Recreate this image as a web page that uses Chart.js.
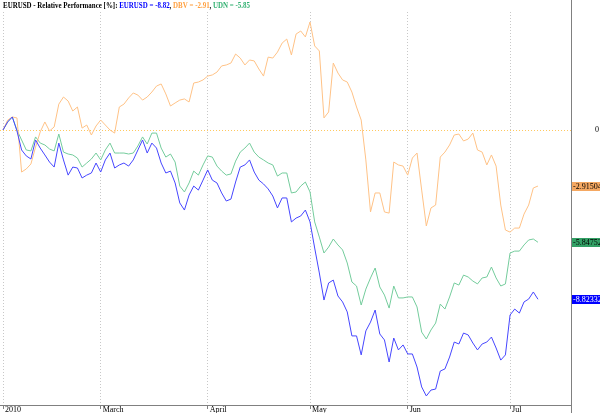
<!DOCTYPE html>
<html>
<head>
<meta charset="utf-8">
<script src="https://cdn.jsdelivr.net/npm/chart.js@4/dist/chart.umd.min.js"></script>
<style>
  html, body { margin: 0; padding: 0; background: #fff; }
  #wrap { width: 600px; height: 413px; }
</style>
</head>
<body>
<div id="wrap"><canvas id="chart" width="600" height="413"></canvas></div>
<script>
// trading days from 29 Jan 2010 to 9 Jul 2010, relative performance in %
const eurusd = [
  0, 0.42, 0.68, -0.05, -1.04, -1.35, -1.51, -0.52, -0.94, -1.30,
  -1.67, -1.93, -0.68, -1.56, -2.35, -1.93, -1.98, -2.50, -2.35, -2.24,
  -1.72, -2.19, -1.56, -1.20, -1.98, -1.82, -1.72, -1.88, -1.56, -1.04,
  -0.52, -1.20, -0.68, -0.94, -1.72, -2.24, -2.14, -2.76, -3.80, -4.17,
  -3.39, -2.92, -3.13, -2.61, -2.08, -2.61, -2.76, -3.28, -3.70, -3.60,
  -2.71, -1.93, -1.82, -1.56, -2.19, -2.61, -2.81, -3.07, -3.44, -4.06,
  -3.54, -3.54, -4.79, -4.59, -4.48, -4.17, -4.79, -6.15, -7.45, -8.86,
  -7.97, -7.82, -8.65, -8.96, -9.48, -10.73, -10.73, -11.72, -10.47, -10.01,
  -9.38, -10.63, -10.94, -12.09, -10.84, -11.46, -11.20, -11.67, -11.67, -12.35,
  -13.39, -13.86, -13.55, -13.50, -12.56, -12.45, -11.83, -11.05, -11.15, -10.58,
  -10.68, -11.10, -11.46, -11.15, -11.05, -10.79, -11.36, -11.99, -11.72, -9.64,
  -9.33, -9.54, -8.96, -8.81, -8.44, -8.82
];
const dbv = [
  0, 0.52, 0.68, 0.63, -2.19, -2.03, -1.77, -0.89, -0.10, 0.42,
  -0.05, 0.16, 1.35, 1.72, 1.51, 0.99, 1.20, 0.10, 0.26, -0.26,
  0.21, 0.52, 0.26, 0, -0.16, 1.20, 1.35, 1.67, 1.93, 1.82,
  1.56, 1.72, 1.98, 2.29, 2.40, 1.88, 1.25, 1.41, 1.56, 1.62,
  1.46, 2.45, 2.50, 2.61, 2.81, 2.87, 3.02, 3.34, 3.39, 3.49,
  3.96, 3.75, 3.39, 3.65, 3.60, 3.18, 2.81, 3.80, 3.75, 4.06,
  4.53, 4.74, 3.91, 5.00, 5.16, 4.85, 5.63, 4.38, 4.12, 0.63,
  0.94, 3.49, 2.97, 2.61, 2.50, 1.98, 1.20, 0.52, -1.56, -4.27,
  -3.28, -3.28, -4.27, -4.33, -1.67, -1.82, -1.88, -2.35, -1.46, -1.20,
  -3.13, -5.00, -4.06, -3.91, -1.41, -1.15, -0.78, -0.26, -0.21, -0.57,
  -0.47, -0.16, -1.04, -1.15, -1.82, -1.30, -1.88, -3.91, -5.21, -5.32,
  -5.11, -5.11, -4.38, -3.91, -3.02, -2.92
];
const udn = [
  0, 0.42, 0.68, 0, -0.52, -1.04, -1.09, -0.36, -0.68, -0.78,
  -0.99, -1.09, -0.21, -1.15, -1.25, -1.30, -1.46, -1.93, -1.72, -1.51,
  -1.20, -1.56, -1.04, -0.68, -1.20, -1.20, -1.20, -1.25, -1.20, -0.83,
  -0.36, -0.73, -0.16, -0.16, -0.94, -1.41, -1.25, -1.67, -2.92, -3.23,
  -2.76, -2.14, -2.35, -1.82, -1.35, -1.41, -1.88, -2.14, -2.35, -2.29,
  -1.62, -1.15, -0.94, -0.68, -1.15, -1.41, -1.56, -1.72, -1.82, -2.40,
  -2.24, -2.24, -3.28, -3.23, -2.92, -2.71, -3.23, -4.79, -5.58, -6.41,
  -6.10, -5.68, -5.99, -6.25, -6.93, -7.92, -8.13, -9.12, -8.29, -7.71,
  -7.19, -8.18, -8.60, -9.28, -8.13, -8.75, -8.75, -8.70, -8.70, -9.22,
  -10.53, -10.89, -10.42, -10.06, -9.07, -9.33, -8.70, -7.97, -8.08, -7.56,
  -7.66, -7.87, -8.02, -7.71, -7.66, -7.14, -7.71, -8.13, -8.02, -6.41,
  -6.31, -6.31, -5.99, -5.73, -5.68, -5.85
];

// month ticks (index into the day arrays)
const monthIdx = [0, 21, 44, 66, 87, 109];
const monthLabels = ['2010', 'March', 'April', 'May', 'Jun', 'Jul'];

// last values shown on the right axis
const lastValues = [-2.91504, -5.84752, -8.82332];
const lastBg = ['#f5a862', '#32a065', '#0000ff'];
const lastFg = ['#000000', '#000000', '#ffffff'];

const titleParts = [
  ['EURUSD - Relative Performance [%]: ', '#000000'],
  ['EURUSD = -8.82', '#0000ff'],
  [', ', '#000000'],
  ['DBV = -2.91', '#ffa040'],
  [', ', '#000000'],
  ['UDN = -5.85', '#30b070'],
];

const toPoints = arr => arr.map((v, i) => ({ x: i, y: v }));

const AXIS_FONT = '8px "Liberation Serif"';

const labelsPlugin = {
  id: 'labels',
  afterDraw(chart) {
    const ctx = chart.ctx;
    const xs = chart.scales.x;
    const ys = chart.scales.y;
    const area = chart.chartArea;
    ctx.save();

    // right axis line runs the full height
    ctx.strokeStyle = '#808080';
    ctx.lineWidth = 1;
    ctx.beginPath();
    ctx.moveTo(area.right + 0.5, 0);
    ctx.lineTo(area.right + 0.5, 413);
    ctx.stroke();

    // title, squeezed to the width of the original header
    ctx.font = 'bold 9px "Liberation Serif"';
    ctx.textBaseline = 'alphabetic';
    ctx.textAlign = 'left';
    const full = titleParts.reduce((s, p) => s + ctx.measureText(p[0]).width, 0);
    const k = 247 / full;
    let tx = 3;
    titleParts.forEach(([t, c]) => {
      const w = ctx.measureText(t).width * k;
      ctx.fillStyle = c;
      ctx.fillText(t, tx, 8, w);
      tx += w;
    });

    // month labels
    ctx.font = AXIS_FONT;
    ctx.fillStyle = '#000';
    ctx.textBaseline = 'top';
    monthIdx.forEach((m, i) => {
      const px = xs.getPixelForValue(m);
      ctx.fillText(monthLabels[i], px + 2, area.bottom + 1);
    });

    // zero label on the right
    ctx.textBaseline = 'middle';
    ctx.textAlign = 'right';
    ctx.fillText('0', 599, ys.getPixelForValue(0));

    // boxed last values
    ctx.textAlign = 'left';
    lastValues.forEach((v, i) => {
      const py = Math.round(ys.getPixelForValue(v));
      ctx.fillStyle = lastBg[i];
      ctx.fillRect(area.right + 1, py - 4, 600 - area.right - 1, 9);
      ctx.fillStyle = lastFg[i];
      ctx.fillText(String(v), area.right + 2, py + 0.5);
    });
    ctx.restore();
  }
};

new Chart(document.getElementById('chart'), {
  type: 'line',
  data: {
    datasets: [
      { label: 'EURUSD', data: toPoints(eurusd), borderColor: '#4646ff', borderWidth: 1, pointRadius: 0, tension: 0 },
      { label: 'DBV', data: toPoints(dbv), borderColor: '#ffc286', borderWidth: 1, pointRadius: 0, tension: 0 },
      { label: 'UDN', data: toPoints(udn), borderColor: '#74cc9c', borderWidth: 1, pointRadius: 0, tension: 0 },
    ],
  },
  options: {
    responsive: false,
    animation: false,
    devicePixelRatio: 1,
    layout: { padding: { top: 12, left: 0, right: 0, bottom: 0 } },
    plugins: { legend: { display: false }, title: { display: false }, tooltip: { enabled: false } },
    scales: {
      x: {
        type: 'linear',
        min: -0.645,
        max: 122.1,
        afterBuildTicks: s => { s.ticks = monthIdx.map(v => ({ value: v })); },
        afterFit: s => { s.height = 8; },
        ticks: { display: false },
        grid: { color: '#c8c8c8', drawTicks: true, tickLength: 4, tickColor: '#808080', tickBorderDash: [] },
        border: { display: true, color: '#808080', width: 1, dash: [1, 2] },
      },
      y: {
        position: 'right',
        min: -14.33,
        max: 6.15,
        afterBuildTicks: s => { s.ticks = [{ value: 0 }]; },
        afterFit: s => { s.width = 29; },
        ticks: { display: false },
        grid: { color: '#ffc860', drawTicks: false },
        border: { display: true, color: '#808080', width: 1, dash: [1, 2] },
      },
    },
  },
  plugins: [labelsPlugin],
});
</script>
</body>
</html>
